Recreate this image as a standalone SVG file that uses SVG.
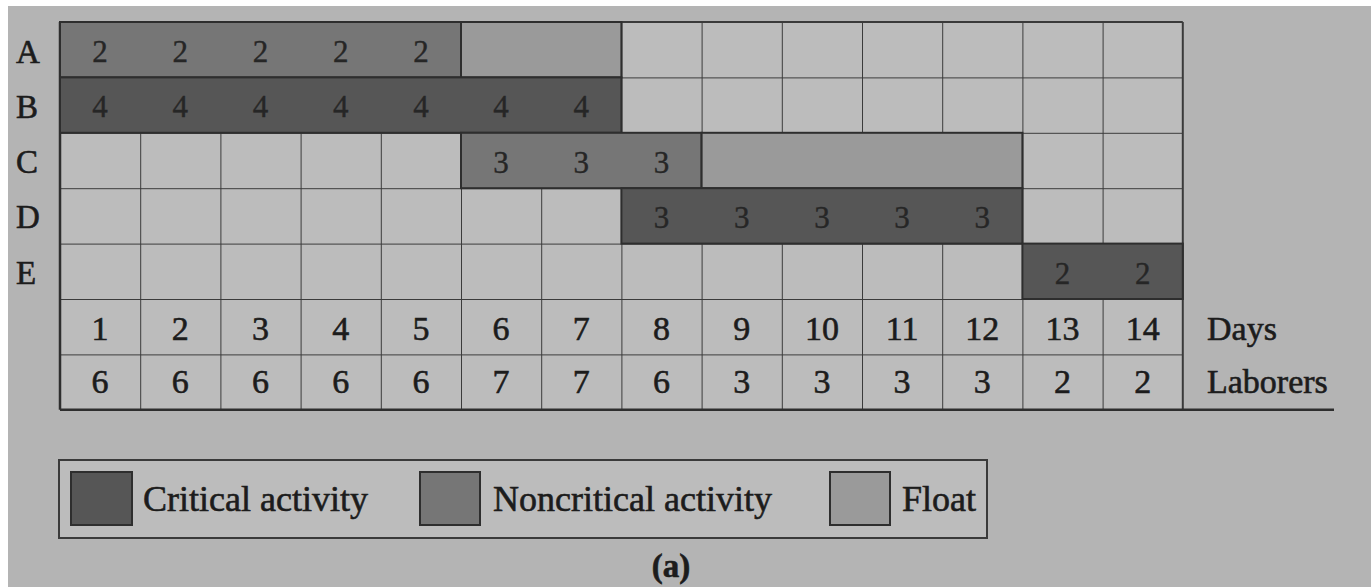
<svg xmlns="http://www.w3.org/2000/svg" width="1371" height="587" viewBox="0 0 1371 587">
  <style>
    text { font-family: "Liberation Serif", "DejaVu Serif", serif; fill: #1c1c1c; stroke: #1c1c1c; stroke-width: 0.6; }
    .lbl { font-size: 34px; text-anchor: middle; }
    .row { font-size: 33px; }
    .side { font-size: 34px; }
    .num { font-size: 31px; text-anchor: middle; fill: #262626; stroke: #262626; stroke-width: 0.4; }
    .crit { fill: #565656; stroke: #2e2e2e; stroke-width: 2; }
    .nonc { fill: #767676; stroke: #2e2e2e; stroke-width: 2; }
    .flt { fill: #9a9a9a; stroke: #2e2e2e; stroke-width: 2; }
    .leg { font-size: 36px; }
  </style>
  <defs>
    <pattern id="grid" x="60" y="22" width="80.2" height="55.4" patternUnits="userSpaceOnUse">
      <rect width="80.2" height="55.4" fill="#bcbcbc"/>
      <path d="M0 0 H80.2 M0 0 V55.4" stroke="#3a3a3a" stroke-width="2" fill="none"/>
    </pattern>
  </defs>

  <!-- page -->
  <rect width="1371" height="587" fill="#b4b4b4"/>
  <rect x="0" y="0" width="8" height="587" fill="#ffffff"/>
  <rect x="0" y="0" width="1371" height="6" fill="#ffffff"/>

  <!-- empty schedule grid (14 days x 7 rows) -->
  <g id="grid-base">
    <rect x="60" y="22" width="1122.8" height="387.8" fill="url(#grid)"/>
    <path d="M1182.8 22 V409.8" stroke="#3a3a3a" stroke-width="2"/>
    <path d="M60 22 H1182.8" stroke="#3a3a3a" stroke-width="2"/>
    <path d="M60 22 V409.8" stroke="#2e2e2e" stroke-width="2.5"/>
    <path d="M60 409.8 H1334" stroke="#2e2e2e" stroke-width="2.5"/>
  </g>

  <!-- activity A: noncritical days 1-5, float days 6-7 -->
  <g id="activity-A">
    <text class="row" x="16" y="63">A</text>
    <rect class="nonc" x="60" y="22" width="401" height="55.4"/>
    <rect class="flt" x="461" y="22" width="160.4" height="55.4"/>
    <text class="num" x="100.1" y="62">2</text>
    <text class="num" x="180.3" y="62">2</text>
    <text class="num" x="260.5" y="62">2</text>
    <text class="num" x="340.7" y="62">2</text>
    <text class="num" x="420.9" y="62">2</text>
  </g>

  <!-- activity B: critical days 1-7 -->
  <g id="activity-B">
    <text class="row" x="16" y="118">B</text>
    <rect class="crit" x="60" y="77.4" width="561.4" height="55.4"/>
    <text class="num" x="100.1" y="117">4</text>
    <text class="num" x="180.3" y="117">4</text>
    <text class="num" x="260.5" y="117">4</text>
    <text class="num" x="340.7" y="117">4</text>
    <text class="num" x="420.9" y="117">4</text>
    <text class="num" x="501.1" y="117">4</text>
    <text class="num" x="581.3" y="117">4</text>
  </g>

  <!-- activity C: noncritical days 6-8, float days 9-12 -->
  <g id="activity-C">
    <text class="row" x="16" y="173">C</text>
    <rect class="nonc" x="461" y="132.8" width="240.6" height="55.4"/>
    <rect class="flt" x="701.6" y="132.8" width="320.8" height="55.4"/>
    <text class="num" x="501.1" y="173">3</text>
    <text class="num" x="581.3" y="173">3</text>
    <text class="num" x="661.5" y="173">3</text>
  </g>

  <!-- activity D: critical days 8-12 -->
  <g id="activity-D">
    <text class="row" x="16" y="228">D</text>
    <rect class="crit" x="621.4" y="188.2" width="401" height="55.4"/>
    <text class="num" x="661.5" y="228">3</text>
    <text class="num" x="741.7" y="228">3</text>
    <text class="num" x="821.9" y="228">3</text>
    <text class="num" x="902.1" y="228">3</text>
    <text class="num" x="982.3" y="228">3</text>
  </g>

  <!-- activity E: critical days 13-14 -->
  <g id="activity-E">
    <text class="row" x="16" y="284">E</text>
    <rect class="crit" x="1022.4" y="243.6" width="160.4" height="55.4"/>
    <text class="num" x="1062.5" y="284">2</text>
    <text class="num" x="1142.7" y="284">2</text>
  </g>

  <!-- day numbers -->
  <g id="days">
    <text class="lbl" x="100.1" y="340">1</text>
    <text class="lbl" x="180.3" y="340">2</text>
    <text class="lbl" x="260.5" y="340">3</text>
    <text class="lbl" x="340.7" y="340">4</text>
    <text class="lbl" x="420.9" y="340">5</text>
    <text class="lbl" x="501.1" y="340">6</text>
    <text class="lbl" x="581.3" y="340">7</text>
    <text class="lbl" x="661.5" y="340">8</text>
    <text class="lbl" x="741.7" y="340">9</text>
    <text class="lbl" x="821.9" y="340">10</text>
    <text class="lbl" x="902.1" y="340">11</text>
    <text class="lbl" x="982.3" y="340">12</text>
    <text class="lbl" x="1062.5" y="340">13</text>
    <text class="lbl" x="1142.7" y="340">14</text>
    <text class="side" x="1207" y="340">Days</text>
  </g>

  <!-- laborers per day -->
  <g id="laborers">
    <text class="lbl" x="100.1" y="393">6</text>
    <text class="lbl" x="180.3" y="393">6</text>
    <text class="lbl" x="260.5" y="393">6</text>
    <text class="lbl" x="340.7" y="393">6</text>
    <text class="lbl" x="420.9" y="393">6</text>
    <text class="lbl" x="501.1" y="393">7</text>
    <text class="lbl" x="581.3" y="393">7</text>
    <text class="lbl" x="661.5" y="393">6</text>
    <text class="lbl" x="741.7" y="393">3</text>
    <text class="lbl" x="821.9" y="393">3</text>
    <text class="lbl" x="902.1" y="393">3</text>
    <text class="lbl" x="982.3" y="393">3</text>
    <text class="lbl" x="1062.5" y="393">2</text>
    <text class="lbl" x="1142.7" y="393">2</text>
    <text class="side" x="1207" y="393">Laborers</text>
  </g>

  <!-- legend -->
  <g id="legend">
    <rect x="59" y="460" width="928" height="78" fill="#bcbcbc" stroke="#3a3a3a" stroke-width="2"/>
    <rect class="crit" x="71" y="472" width="61" height="53"/>
    <text class="leg" x="143" y="511">Critical activity</text>
    <rect class="nonc" x="420" y="472" width="60" height="53"/>
    <text class="leg" x="493" y="511">Noncritical activity</text>
    <rect class="flt" x="830" y="472" width="60" height="53"/>
    <text class="leg" x="902" y="511">Float</text>
  </g>

  <!-- caption -->
  <g id="caption">
    <text x="671" y="577" font-size="33" font-weight="bold" text-anchor="middle">(a)</text>
  </g>
</svg>
